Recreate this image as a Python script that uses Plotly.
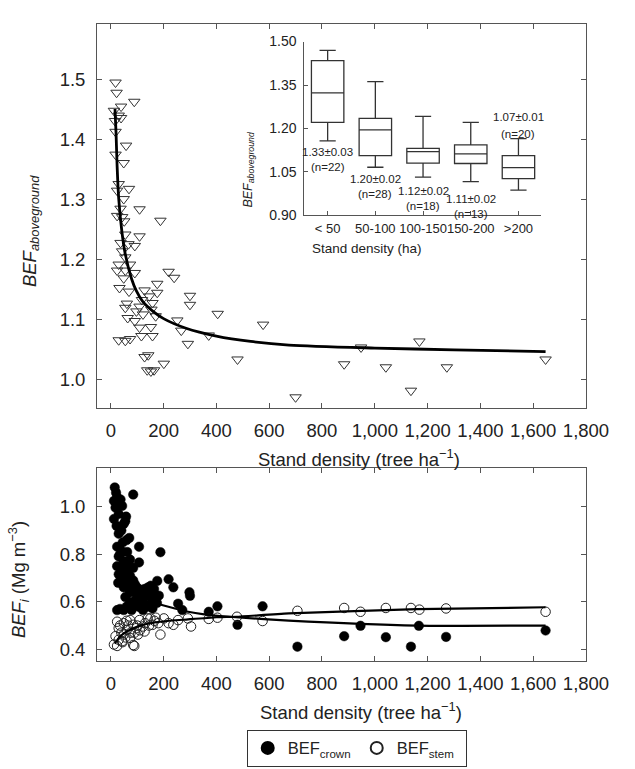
import plotly.graph_objects as go

W, H = 635, 769
FONT = "Liberation Sans, Arial, Helvetica, sans-serif"
TXT = "#222222"
AX = "#555555"

def PX(p):
    return p / W

def PY(p):
    return 1 - p / H

# ---------------- data: top panel (BEF aboveground) ----------------
above_x = [18, 22, 39, 89, 12, 30, 16, 39, 18, 58,
           18, 49, 30, 24, 69, 49, 109, 37, 24, 43,
           51, 188, 55, 109, 37, 67, 91, 43, 55, 30,
           73, 24, 55, 91, 219, 240, 49, 33, 69, 128,
           176, 176, 146, 118, 158, 300, 300, 61, 55, 109,
           97, 154, 122, 170, 64, 405, 91, 252, 109, 152,
           267, 116, 158, 371, 30, 55, 73, 292, 128, 142,
           480, 138, 164, 201, 152,
           577, 700, 884, 948, 1042, 1137, 1169, 1273, 1647]
above_y = [1.495, 1.478, 1.455, 1.463, 1.448, 1.440, 1.431, 1.436, 1.413, 1.390,
           1.375, 1.361, 1.326, 1.315, 1.318, 1.301, 1.284, 1.285, 1.273, 1.271,
           1.264, 1.265, 1.242, 1.239, 1.228, 1.226, 1.223, 1.214, 1.204, 1.192,
           1.192, 1.182, 1.182, 1.178, 1.180, 1.170, 1.169, 1.153, 1.147, 1.149,
           1.160, 1.145, 1.139, 1.133, 1.128, 1.140, 1.125, 1.127, 1.120, 1.122,
           1.114, 1.117, 1.109, 1.106, 1.103, 1.110, 1.098, 1.099, 1.087, 1.088,
           1.082, 1.073, 1.073, 1.074, 1.066, 1.065, 1.068, 1.060, 1.038, 1.041,
           1.034, 1.016, 1.016, 1.027, 1.014,
           1.092, 0.971, 1.026, 1.054, 1.021, 0.982, 1.064, 1.021, 1.034]

above_fit_x = [16, 20, 24, 30, 42, 55, 79, 97, 120, 160, 200, 285, 400, 530, 675, 1000, 1300, 1647]
above_fit_y = [1.451, 1.410, 1.356, 1.302, 1.247, 1.209, 1.168, 1.148, 1.131, 1.114, 1.102,
               1.086, 1.073, 1.064, 1.058, 1.053, 1.050, 1.047]

# ---------------- data: inset box plot ----------------
box_cats = ["< 50", "50-100", "100-150", "150-200", ">200"]
box_pos = [0, 1, 2, 3, 4]
box_upper = [1.470, 1.362, 1.242, 1.221, 1.165]
box_q3 = [1.434, 1.235, 1.131, 1.143, 1.106]
box_median = [1.323, 1.195, 1.120, 1.112, 1.065]
box_q1 = [1.221, 1.106, 1.080, 1.079, 1.027]
box_lower = [1.157, 1.066, 1.032, 1.016, 0.987]
box_mean_txt = ["1.33±0.03", "1.20±0.02", "1.12±0.02", "1.11±0.02", "1.07±0.01"]
box_n_txt = ["(n=22)", "(n=28)", "(n=18)", "(n=13)", "(n=20)"]
box_lbl_y1 = [1.117, 1.027, 0.983, 0.958, 1.239]
box_lbl_y2 = [1.066, 0.973, 0.931, 0.905, 1.182]

# ---------------- data: bottom panel (BEF crown / stem) ----------------
crown_x = [15, 24, 37, 12, 18, 43, 85, 12, 58, 49, 30, 70, 24, 107, 43, 188, 30, 49, 107, 73,
           24, 85, 49, 30, 73, 61, 176, 219, 91, 152, 237, 49, 128, 164, 73, 298, 109, 146, 182, 55,
           97, 122, 73, 152, 255, 109, 158, 24, 49, 79, 122, 271, 371, 404, 480, 575, 300,
           707, 884, 946, 1042, 1137, 1167, 1270, 1647,
           20, 30, 22, 40, 55, 60, 45, 35, 62, 55, 38, 65, 60, 28, 40, 65, 85, 95, 100, 115,
           135, 140, 170, 160, 110, 90, 60, 35, 140, 175]
crown_y = [1.082, 1.041, 1.031, 1.025, 0.997, 1.004, 1.052, 0.949, 0.959, 0.928, 0.887, 0.869, 0.832,
           0.832, 0.812, 0.809, 0.791, 0.771, 0.766, 0.778,
           0.750, 0.743, 0.729, 0.716, 0.709, 0.688, 0.688, 0.695, 0.675, 0.668, 0.661, 0.661, 0.654,
           0.654, 0.640, 0.640, 0.633, 0.626, 0.626, 0.620,
           0.613, 0.606, 0.599, 0.592, 0.592, 0.578, 0.572, 0.565, 0.565, 0.565, 0.565, 0.565, 0.558,
           0.581, 0.503, 0.581, 0.625,
           0.411, 0.455, 0.499, 0.451, 0.411, 0.499, 0.452, 0.479,
           1.060, 0.970, 0.920, 0.900, 0.940, 0.860, 0.850, 0.800, 0.810, 0.750, 0.740, 0.760, 0.720,
           0.680, 0.690, 0.660, 0.690, 0.640, 0.660, 0.650,
           0.630, 0.660, 0.610, 0.640, 0.610, 0.590, 0.580, 0.570, 0.580, 0.595]

stem_x = [12, 24, 43, 85, 18, 49, 73, 30, 61, 103, 24, 49, 85, 122, 73, 109, 140, 170, 201, 158,
          188, 219, 255, 292, 304, 237, 128, 97, 89, 371, 404, 478, 575,
          707, 884, 946, 1042, 1137, 1169, 1270, 1647,
          30, 40, 55, 65, 90, 100, 110, 130, 145, 150, 165, 180, 60, 35, 45, 75]
stem_y = [0.420, 0.414, 0.434, 0.418, 0.455, 0.462, 0.448, 0.489, 0.482, 0.462, 0.516, 0.510, 0.503,
          0.496, 0.523, 0.523, 0.530, 0.533, 0.530, 0.503,
          0.462, 0.510, 0.523, 0.530, 0.496, 0.503, 0.475, 0.489, 0.414, 0.528, 0.533, 0.537, 0.519,
          0.562, 0.574, 0.558, 0.574, 0.574, 0.567, 0.572, 0.558,
          0.440, 0.470, 0.450, 0.500, 0.470, 0.500, 0.480, 0.510, 0.500, 0.530, 0.520, 0.510, 0.520,
          0.500, 0.430, 0.470]

stem_fit_x = [15, 36, 73, 122, 195, 293, 401, 474, 674, 1160, 1647]
stem_fit_y = [0.424, 0.455, 0.482, 0.503, 0.517, 0.526, 0.535, 0.537, 0.551, 0.569, 0.577]
crown_fit_x = [176, 243, 293, 354, 414, 474, 674, 1160, 1647]
crown_fit_y = [0.592, 0.572, 0.558, 0.547, 0.540, 0.535, 0.521, 0.500, 0.500]

density_ticks = [0, 200, 400, 600, 800, 1000, 1200, 1400, 1600, 1800]

fig = go.Figure()

# top panel
fig.add_trace(go.Scatter(x=above_x, y=above_y, mode="markers", xaxis="x", yaxis="y",
                         marker=dict(symbol="triangle-down-open", size=10, color="#333333",
                                     line=dict(width=1, color="#333333")),
                         showlegend=False))
fig.add_trace(go.Scatter(x=above_fit_x, y=above_fit_y, mode="lines", xaxis="x", yaxis="y",
                         line=dict(color="black", width=2.8, shape="spline", smoothing=0.8),
                         showlegend=False))

# inset
fig.add_trace(go.Box(x=box_pos, q1=box_q1, median=box_median, q3=box_q3,
                     lowerfence=box_lower, upperfence=box_upper,
                     xaxis="x3", yaxis="y3", width=0.68, whiskerwidth=0.5,
                     fillcolor="rgba(0,0,0,0)", line=dict(color="#333333", width=1.3),
                     boxpoints=False, showlegend=False, hoverinfo="skip"))

# bottom panel
fig.add_trace(go.Scatter(x=crown_x, y=crown_y, mode="markers", xaxis="x2", yaxis="y2",
                         name="BEF<sub>crown</sub>",
                         marker=dict(symbol="circle", size=9.5, color="black",
                                     line=dict(width=0.5, color="black"))))
fig.add_trace(go.Scatter(x=stem_x, y=stem_y, mode="markers", xaxis="x2", yaxis="y2",
                         name="BEF<sub>stem</sub>",
                         marker=dict(symbol="circle-open", size=9.5, color="#222222",
                                     line=dict(width=1, color="#222222"))))
fig.add_trace(go.Scatter(x=stem_fit_x, y=stem_fit_y, mode="lines", xaxis="x2", yaxis="y2",
                         line=dict(color="black", width=2.2, shape="spline", smoothing=0.6),
                         showlegend=False))
fig.add_trace(go.Scatter(x=crown_fit_x, y=crown_fit_y, mode="lines", xaxis="x2", yaxis="y2",
                         line=dict(color="black", width=2.2, shape="spline", smoothing=0.6),
                         showlegend=False))

tickfont = dict(family=FONT, size=18.5, color=TXT)
common = dict(showline=True, linecolor=AX, linewidth=1, ticks="inside", ticklen=5,
              tickcolor=AX, mirror="ticks", showgrid=False, zeroline=False, tickfont=tickfont,
              tickangle=0)
inset_tf = dict(family=FONT, size=13, color=TXT)

fig.update_layout(
    width=W, height=H, margin=dict(l=0, r=0, t=0, b=0),
    paper_bgcolor="white", plot_bgcolor="rgba(0,0,0,0)",
    font=dict(family=FONT, color=TXT),
    xaxis=dict(domain=[PX(100.7), PX(608)], range=[-52, 1800], tickvals=density_ticks,
               tickformat=",d", anchor="y", ticklabelstandoff=6, **common),
    yaxis=dict(domain=[PY(408), PY(16)], range=[0.954, 1.593],
               tickvals=[1.0, 1.1, 1.2, 1.3, 1.4, 1.5], tickformat=".1f", anchor="x",
               ticklabelstandoff=7, **common),
    xaxis2=dict(domain=[PX(100.7), PX(608)], range=[-52, 1800], tickvals=density_ticks,
                tickformat=",d", anchor="y2", ticklabelstandoff=6, **common),
    yaxis2=dict(domain=[PY(667), PY(470)], range=[0.35, 1.163],
                tickvals=[0.4, 0.6, 0.8, 1.0], tickformat=".1f", anchor="x2",
                ticklabelstandoff=7, **common),
    xaxis3=dict(domain=[PX(315.7), PX(561.7)], range=[-0.49, 4.48], anchor="y3",
                tickvals=box_pos, ticktext=box_cats, showline=True, linecolor=AX, linewidth=1,
                ticks="inside", ticklen=4, tickcolor=AX, showgrid=False, zeroline=False,
                tickfont=inset_tf, tickangle=0, ticklabelstandoff=1),
    yaxis3=dict(domain=[PY(211.7), PY(34.3)], range=[0.90, 1.50], anchor="x3",
                tickvals=[0.90, 1.05, 1.20, 1.35, 1.50], tickformat=".2f",
                showline=True, linecolor=AX, linewidth=1, ticks="inside", ticklen=4,
                tickcolor=AX, showgrid=False, zeroline=False, tickfont=dict(family=FONT, size=14, color=TXT),
                ticklabelstandoff=4),
    legend=dict(orientation="h", x=PX(256), y=PY(737), xanchor="left", yanchor="top",
                bordercolor="#333333", borderwidth=1, bgcolor="white", entrywidth=64,
                font=dict(family=FONT, size=16.5, color=TXT), itemsizing="constant"),
)

ann = []
ann.append(dict(text="Stand density (tree ha<sup>−1</sup>)", x=PX(373), y=PY(460)))
ann.append(dict(text="Stand density (tree ha<sup>−1</sup>)", x=PX(375), y=PY(718)))
ann.append(dict(text="<i>BEF<sub>aboveground</sub></i>", x=PX(32), y=PY(228), textangle=-90))
ann.append(dict(text="<i>BEF<sub>i</sub></i> (Mg m<sup>−3</sup>)", x=PX(20), y=PY(584), textangle=-90))
for a in ann:
    a.update(xref="paper", yref="paper", showarrow=False, xanchor="center", yanchor="middle",
             font=dict(family=FONT, size=18.5, color=TXT))
    fig.add_annotation(**a)

fig.add_annotation(text="Stand density (ha)", x=PX(440), y=PY(236), xref="paper", yref="paper",
                   showarrow=False, font=dict(family=FONT, size=13.5, color=TXT))
fig.add_annotation(text="<i>BEF<sub>aboveground</sub></i>", x=PX(258), y=PY(123), xref="paper",
                   yref="paper", showarrow=False, textangle=-90,
                   font=dict(family=FONT, size=12.5, color=TXT))
for i in range(len(box_pos)):
    fig.add_annotation(text=box_mean_txt[i], x=box_pos[i], y=box_lbl_y1[i], xref="x3", yref="y3",
                       showarrow=False, font=dict(family=FONT, size=11.5, color=TXT))
    fig.add_annotation(text=box_n_txt[i], x=box_pos[i], y=box_lbl_y2[i], xref="x3", yref="y3",
                       showarrow=False, font=dict(family=FONT, size=11.5, color=TXT))

fig.write_html("out.html")
